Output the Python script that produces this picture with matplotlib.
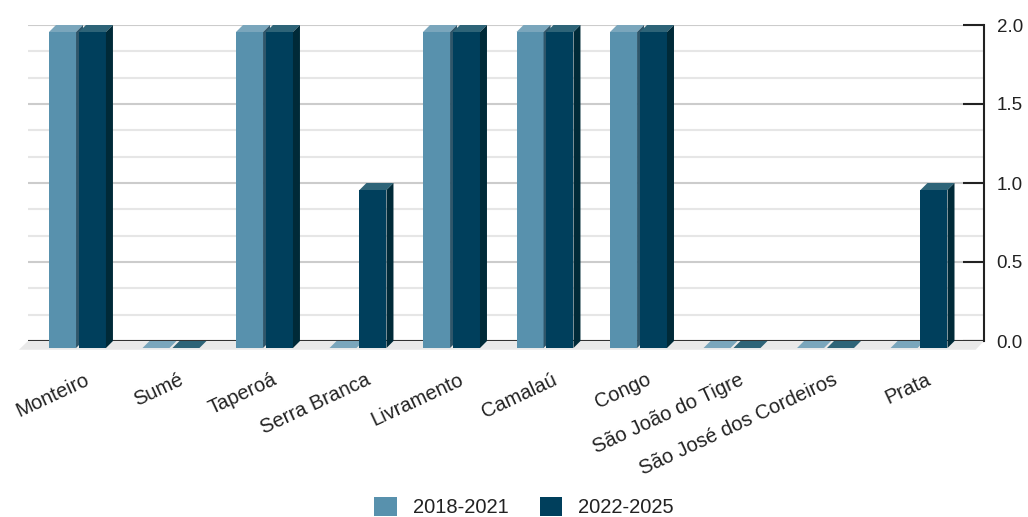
""" Bar chart with a pseudo-3D look, municipalities by period """

import numpy as np
import matplotlib.pyplot as plt
from matplotlib.patches import Polygon, Patch

plt.rcParams['font.family'] = ['Liberation Sans', 'DejaVu Sans']

cidades = ["Monteiro", "Sumé", "Taperoá", "Serra Branca", "Livramento",
           "Camalaú", "Congo", "São João do Tigre", "São José dos Cordeiros",
           "Prata"]
periodo_1 = [2, 0, 2, 0, 2, 2, 2, 0, 0, 0]
periodo_2 = [2, 0, 2, 1, 2, 2, 2, 0, 0, 1]
nomes = ["2018-2021", "2022-2025"]
yticks = [0.0, 0.5, 1.0, 1.5, 2.0]

# front, top, side
cores = [("#5891ad", "#7aa6bc", "#2f566a"),
         ("#003f5c", "#2e6478", "#002a38")]


def draw_bar(ax, x, v, w, dx, dy, cor, z):
    """ Draws front face shifted by (-dx, -dy) plus top and side faces """
    front, top, side = cor
    ax.bar(x - dx, v, w, bottom=-dy, color=front, zorder=z,
           clip_on=False, linewidth=0)
    xl, xr = x - w / 2, x + w / 2
    ax.add_patch(Polygon([(xl - dx, v - dy), (xr - dx, v - dy), (xr, v), (xl, v)],
                         closed=True, facecolor=top, linewidth=0,
                         zorder=z, clip_on=False))
    if v > 0:
        ax.add_patch(Polygon([(xr - dx, -dy), (xr - dx, v - dy), (xr, v), (xr, 0)],
                             closed=True, facecolor=side, linewidth=0,
                             zorder=z, clip_on=False))


fig = plt.figure(figsize=(10.28, 5.17), dpi=100)
ax = fig.add_axes([28 / 1028, 1 - 341 / 517, (984 - 28) / 1028, (341 - 25) / 517])

xmin, xmax = -0.604, 9.62
ax.set_xlim(xmin, xmax)
ax.set_ylim(0, 2)

# 7 pixel depth converted to data units
p0 = ax.transData.transform((0, 0))
p1 = ax.transData.transform((1, 1))
dx = 7 / (p1[0] - p0[0])
dy = 7 / (p1[1] - p0[1])

# floor
ax.add_patch(Polygon([(xmin, 0), (xmax, 0), (xmax - 1.2 * dx, -1.25 * dy),
                      (xmin - 1.3 * dx, -1.25 * dy)], closed=True,
                     facecolor="#e9e9e9", linewidth=0, zorder=1, clip_on=False))
ax.axhline(0, color="#333333", lw=1.5, zorder=2)

xs = np.arange(len(cidades))
w = 0.289
off = 0.16
for i in xs:
    draw_bar(ax, i - off, periodo_1[i], w, dx, dy, cores[0], 3 + 2 * i)
    draw_bar(ax, i + off, periodo_2[i], w, dx, dy, cores[1], 4 + 2 * i)

# grid
ax.set_yticks(yticks)
ax.set_yticklabels(["{:.1f}".format(t) for t in yticks])
ax.set_yticks(np.arange(0, 2.01, 1 / 6), minor=True)
ax.grid(axis="y", which="major", color="#cccccc", lw=1.5, zorder=0)
ax.grid(axis="y", which="minor", color="#e6e6e6", lw=1.5, zorder=0)
ax.set_axisbelow(True)

ax.yaxis.tick_right()
ax.tick_params(axis="y", which="major", direction="in", length=15, width=1.5,
               color="#222222", labelsize=13.5, labelcolor="#222222", pad=9)
ax.tick_params(axis="y", which="minor", length=0)
ax.tick_params(axis="x", length=0, pad=21)

ax.set_xticks(xs)
ax.set_xticklabels(cidades, rotation=25, ha="right", va="top",
                   rotation_mode="anchor", fontsize=14.5, color="#222222")

for s in ["left", "top", "bottom"]:
    ax.spines[s].set_visible(False)
ax.spines["right"].set_color("#222222")
ax.spines["right"].set_linewidth(1.5)

handles = [Patch(facecolor=cores[0][0], label=nomes[0]),
           Patch(facecolor=cores[1][0], label=nomes[1])]
fig.legend(handles=handles, loc="center", bbox_to_anchor=(524 / 1028, 10 / 517),
           ncol=2, frameon=False, fontsize=14.5, handlelength=1.1,
           handleheight=1.1, handletextpad=0.8, columnspacing=1.55,
           labelcolor="#222222", borderpad=0.2)

fig.savefig("out.png", dpi=100)
